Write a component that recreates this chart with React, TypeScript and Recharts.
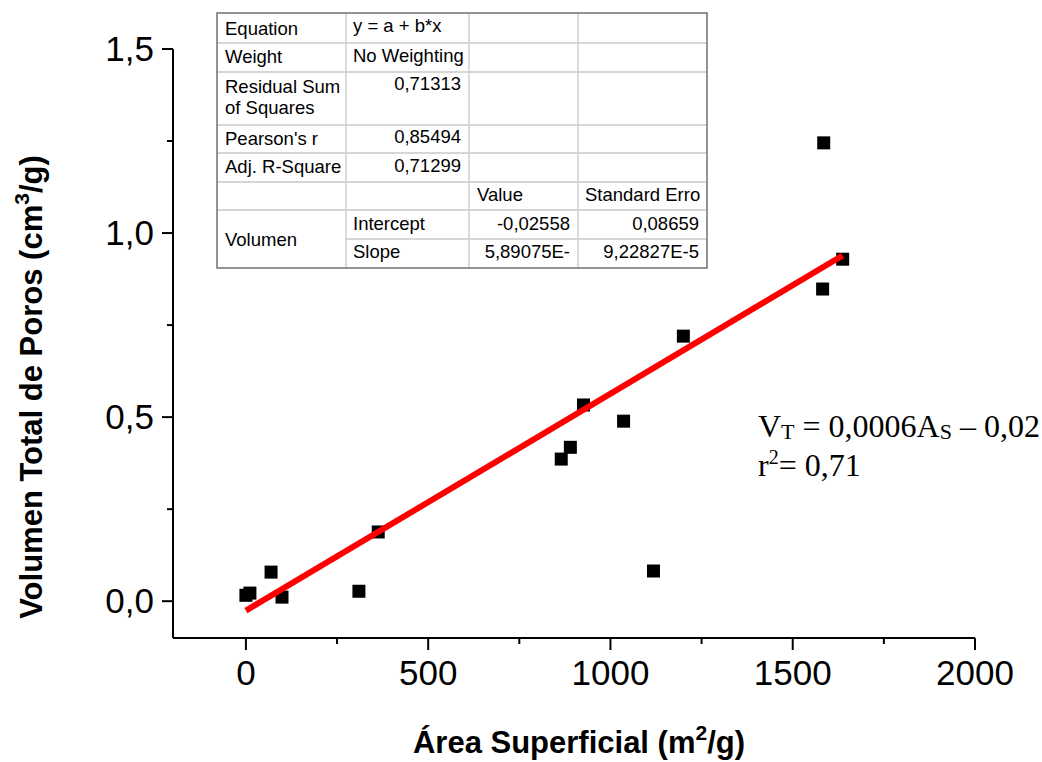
import React from "react";
import { ScatterChart, Scatter, XAxis, YAxis } from "recharts";

// ---- data ----
const areaSuperficial = [0, 11, 69, 99, 310, 363, 865, 890, 926, 1036, 1118, 1200, 1585, 1582, 1637];
const volumenTotal = [0.016, 0.022, 0.079, 0.011, 0.027, 0.188, 0.386, 0.418, 0.533, 0.489, 0.082, 0.72, 1.245, 0.848, 0.929];
const fitX = [0, 1637];
const fitY = [-0.0256, 0.939];
const xTicks = [0, 250, 500, 750, 1000, 1250, 1500, 1750, 2000];
const yTicks = [0, 0.25, 0.5, 0.75, 1.0, 1.25, 1.5];
const xMajor = [0, 500, 1000, 1500, 2000];
const yMajor = [0, 0.5, 1.0, 1.5];

const points = areaSuperficial.map((x, i) => ({ x, y: volumenTotal[i] }));
const fitLine = fitX.map((x, i) => ({ x, y: fitY[i] }));

// Table contents
const tableCol1 = ["Equation", "Weight", "Residual Sum", "of Squares", "Pearson's r", "Adj. R-Square", "Volumen"];
const tableCol2Left = ["y = a + b*x", "No Weighting", "Intercept", "Slope"];
const tableCol2Right = ["0,71313", "0,85494", "0,71299"];
const tableHeaders = ["Value", "Standard Erro"];
const tableValues = ["-0,02558", "5,89075E-"];
const tableErrors = ["0,08659", "9,22827E-5"];

const SANS = "'Liberation Sans', Arial, sans-serif";
const SERIF = "'Liberation Serif', 'Times New Roman', serif";

const fmt = (v: number) => v.toFixed(1).replace(".", ",");

const XTick = (props: any) => {
  const { x, y, payload } = props;
  const v = payload.value;
  const major = xMajor.includes(v);
  return (
    <g>
      <line x1={x} y1={y} x2={x} y2={y + (major ? 12 : 6)} stroke="#000" strokeWidth={2} />
      {major && (
        <text x={x} y={y + 47} textAnchor="middle" fontFamily={SANS} fontSize={35} fill="#000">
          {String(v)}
        </text>
      )}
    </g>
  );
};

const YTick = (props: any) => {
  const { x, y, payload } = props;
  const v = payload.value;
  const major = yMajor.some((m) => Math.abs(m - v) < 1e-6);
  return (
    <g>
      <line x1={x} y1={y} x2={x - (major ? 11 : 6)} y2={y} stroke="#000" strokeWidth={2} />
      {major && (
        <text x={x - 19} y={y + 12} textAnchor="end" fontFamily={SANS} fontSize={35} fill="#000">
          {fmt(v)}
        </text>
      )}
    </g>
  );
};

const Square = (props: any) => {
  const { cx, cy } = props;
  if (cx == null || cy == null) return <g />;
  return <rect x={cx - 6.5} y={cy - 6.5} width={13} height={13} fill="#000" />;
};

const Overlay = () => {
  const cols = [217, 346, 469, 578, 707];
  const rows = [13, 43, 72, 125, 153, 182, 210, 239, 268];
  const ts = { fontFamily: SANS, fontSize: 18.5, fill: "#000" } as const;
  return (
    <svg width={1042} height={762} style={{ position: "absolute", left: 0, top: 0, pointerEvents: "none" }}>
      <rect x={217} y={13} width={490} height={255} fill="#fff" />
      {rows.slice(1, 7).map((r) => (
        <line key={r} x1={cols[0]} x2={cols[4]} y1={r} y2={r} stroke="#d6d6d6" strokeWidth={2} />
      ))}
      <line x1={cols[1]} x2={cols[4]} y1={rows[7]} y2={rows[7]} stroke="#d6d6d6" strokeWidth={2} />
      {cols.slice(1, 4).map((c) => (
        <line key={c} x1={c} x2={c} y1={13} y2={268} stroke="#cfcfcf" strokeWidth={1.5} />
      ))}
      <rect x={217} y={13} width={490} height={255} fill="none" stroke="#707070" strokeWidth={1.5} />

      <text x={225} y={35} {...ts}>{tableCol1[0]}</text>
      <text x={225} y={63} {...ts}>{tableCol1[1]}</text>
      <text x={225} y={93} {...ts}>{tableCol1[2]}</text>
      <text x={225} y={114} {...ts}>{tableCol1[3]}</text>
      <text x={225} y={145} {...ts}>{tableCol1[4]}</text>
      <text x={225} y={173} {...ts}>{tableCol1[5]}</text>
      <text x={225} y={246} {...ts}>{tableCol1[6]}</text>

      <text x={353} y={32} {...ts}>{tableCol2Left[0]}</text>
      <text x={353} y={62} {...ts}>{tableCol2Left[1]}</text>
      <text x={353} y={230} {...ts}>{tableCol2Left[2]}</text>
      <text x={353} y={258} {...ts}>{tableCol2Left[3]}</text>

      <text x={461} y={90} textAnchor="end" {...ts}>{tableCol2Right[0]}</text>
      <text x={461} y={143} textAnchor="end" {...ts}>{tableCol2Right[1]}</text>
      <text x={461} y={172} textAnchor="end" {...ts}>{tableCol2Right[2]}</text>

      <text x={477} y={201} {...ts}>{tableHeaders[0]}</text>
      <text x={585} y={201} {...ts}>{tableHeaders[1]}</text>
      <text x={570} y={230} textAnchor="end" {...ts}>{tableValues[0]}</text>
      <text x={570} y={258} textAnchor="end" {...ts}>{tableValues[1]}</text>
      <text x={699} y={230} textAnchor="end" {...ts}>{tableErrors[0]}</text>
      <text x={699} y={258} textAnchor="end" {...ts}>{tableErrors[1]}</text>

      {/* equation */}
      <text x={758} y={437} fontFamily={SERIF} fontSize={32} fill="#000">
        V<tspan fontSize={22} dy={2}>T</tspan>
        <tspan dy={-2}> = 0,0006A</tspan>
        <tspan fontSize={22} dy={2}>S</tspan>
        <tspan dy={-2}> – 0,02</tspan>
      </text>
      <text x={758} y={476} fontFamily={SERIF} fontSize={32} fill="#000">
        r<tspan fontSize={20} dy={-12}>2</tspan>
        <tspan dy={12}>= 0,71</tspan>
      </text>

      {/* axis titles */}
      <text x={579} y={753} textAnchor="middle" fontFamily={SANS} fontWeight="bold" fontSize={31} fill="#000">
        Área Superficial (m<tspan fontSize={21} dy={-13}>2</tspan>
        <tspan dy={13}>/g)</tspan>
      </text>
      <text
        transform="translate(42,387) rotate(-90)"
        textAnchor="middle"
        fontFamily={SANS}
        fontWeight="bold"
        fontSize={31}
        fill="#000"
      >
        Volumen Total de Poros (cm<tspan fontSize={21} dy={-13}>3</tspan>
        <tspan dy={13}>/g)</tspan>
      </text>
    </svg>
  );
};

export default function App() {
  return (
    <div style={{ position: "absolute", left: 0, top: 0, width: 1042, height: 762, background: "#fff" }}>
      <ScatterChart width={1042} height={762} margin={{ top: 49, right: 67, bottom: 64, left: 13 }}>
        <XAxis
          type="number"
          dataKey="x"
          domain={[-200, 2000]}
          ticks={xTicks}
          interval={0}
          height={60}
          tickSize={0}
          tickMargin={0}
          tickLine={false}
          axisLine={{ stroke: "#000", strokeWidth: 2 }}
          tick={<XTick />}
          allowDataOverflow
        />
        <YAxis
          type="number"
          dataKey="y"
          domain={[-0.1, 1.5]}
          ticks={yTicks}
          interval={0}
          width={160}
          tickSize={0}
          tickMargin={0}
          tickLine={false}
          axisLine={{ stroke: "#000", strokeWidth: 2 }}
          tick={<YTick />}
          allowDataOverflow
        />
        <Scatter data={points} shape={<Square />} isAnimationActive={false} />
        <Scatter
          data={fitLine}
          line={{ stroke: "#ff0000", strokeWidth: 6 }}
          shape={() => <g />}
          isAnimationActive={false}
        />
      </ScatterChart>
      <Overlay />
    </div>
  );
}
